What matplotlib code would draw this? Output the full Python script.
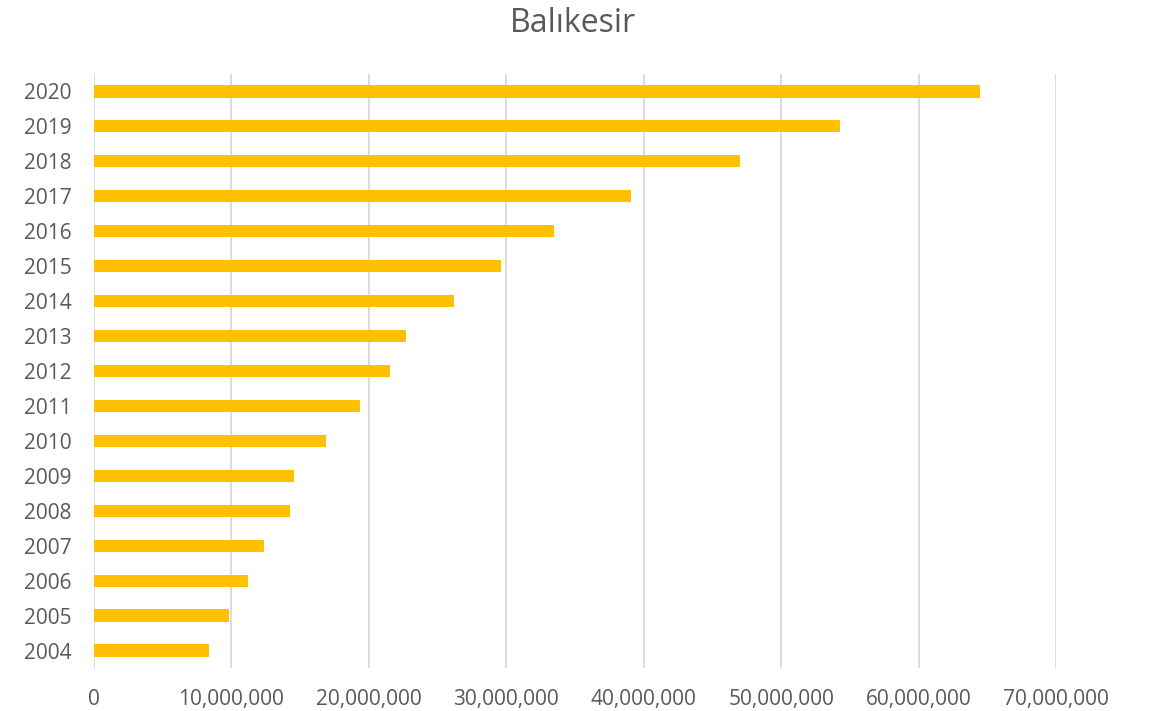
import matplotlib.pyplot as plt
import numpy as np

# datos
years = ['2004', '2005', '2006', '2007', '2008', '2009', '2010', '2011', '2012',
         '2013', '2014', '2015', '2016', '2017', '2018', '2019', '2020']
values = [8.35e6, 9.85e6, 11.2e6, 12.37e6, 14.25e6, 14.55e6, 16.87e6, 19.35e6, 21.53e6,
          22.69e6, 26.18e6, 29.6e6, 33.45e6, 39.05e6, 46.98e6, 54.25e6, 64.5e6]
xticks = [0, 10e6, 20e6, 30e6, 40e6, 50e6, 60e6, 70e6]

plt.rcParams['font.family'] = ['Open Sans', 'DejaVu Sans']
gris = '#595959'

fig = plt.figure(figsize=(11.58, 7.11), dpi=100)
ax = fig.add_axes([0.0812, 0.0605, 0.8307, 0.8355])

y = np.arange(len(years))
ax.barh(y, values, height=0.35, color='#ffc000', zorder=3)

ax.set_xlim(0, 70e6)
ax.set_ylim(-0.5, len(years) - 0.5)
ax.set_yticks(y)
ax.set_yticklabels(years, fontsize=15, color=gris)
ax.set_xticks(xticks)
ax.set_xticklabels(['{:,.0f}'.format(v) for v in xticks], fontsize=15, color=gris)
ax.tick_params(axis='y', length=0, pad=16)
ax.tick_params(axis='x', length=0, pad=15)

ax.grid(axis='x', color='#d9d9d9', linewidth=1.3, zorder=0)
for s in ax.spines.values():
    s.set_visible(False)

fig.suptitle('Balıkesir', fontsize=23, color=gris, x=0.495, y=0.99)

plt.savefig('out.png', dpi=100)
